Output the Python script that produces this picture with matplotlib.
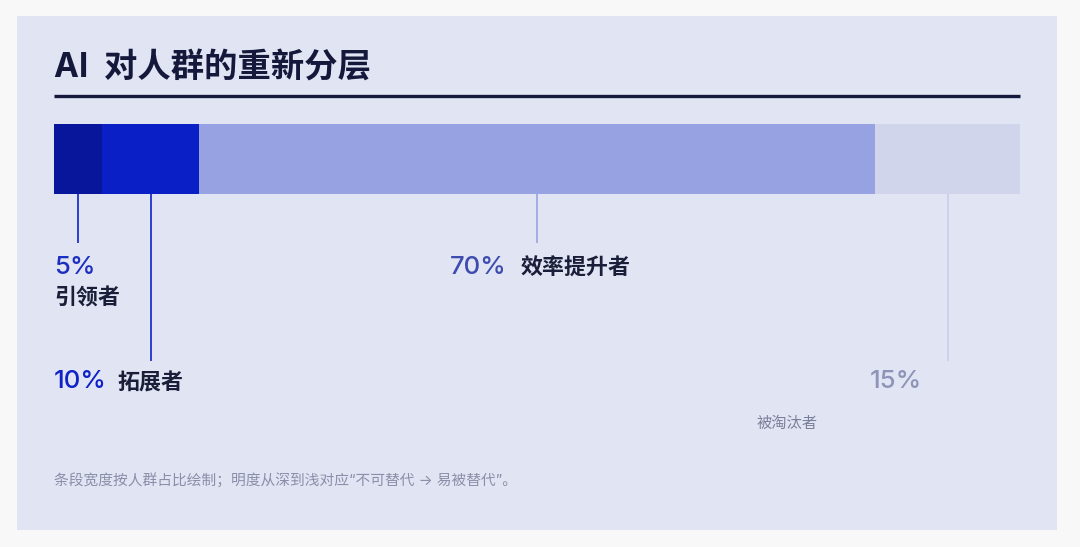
import matplotlib.pyplot as plt
from matplotlib.patches import Rectangle

plt.rcParams['font.family'] = ['Inter', 'Noto Sans CJK SC', 'DejaVu Sans']

# data
groups = ['引领者', '拓展者', '效率提升者', '被淘汰者']
shares = [5, 10, 70, 15]
pct_labels = ['5%', '10%', '70%', '15%']
seg_colors = ['#07169a', '#0a1fc6', '#96a2e2', '#d1d5ec']
line_colors = ['#2d3ecf', '#2d3ecf', '#a4addf', '#cdd1ea']
pct_colors = ['#1b2fc0', '#0e22c8', '#3d4cae', '#8e93b8']

W, H = 1080, 547
x0, x1 = 54, 1020
scale = (x1 - x0) / 100.0

fig = plt.figure(figsize=(W / 100, H / 100), dpi=100, facecolor='#f8f8f8')
ax = fig.add_axes([0, 0, 1, 1])
ax.set_xlim(-x0 / scale, (W - x0) / scale)
ax.set_ylim(H, 0)
ax.axis('off')

def px(x):
    return (x - x0) / scale

# card background
ax.add_patch(Rectangle((px(17), 16), (1057 - 17) / scale, 530 - 16,
                       facecolor='#e1e4f3', edgecolor='none', zorder=0))

# title and rule
ax.text(px(54), 69, 'AI  对人群的重新分层', fontsize=24, fontweight='bold',
        color='#14183a', va='center', ha='left')
ax.plot([0, 100], [96, 96], color='#14183a', lw=2.4, solid_capstyle='butt')

# stacked bar
lefts = [sum(shares[:i]) for i in range(len(shares))]
ax.barh(159, shares, left=lefts, height=70, color=seg_colors,
        edgecolor='none', zorder=2)

# leader lines at segment midpoints
ends = [242, 360, 242, 360]
for l, s, e, c in zip(lefts, shares, ends, line_colors):
    m = l + s / 2
    ax.plot([m, m], [194, e], color=c, lw=1.4, zorder=1)

# labels
pct_fs = 18.5
name_fs = 15.8
ax.text(px(54), 267, pct_labels[0], fontsize=pct_fs, fontweight='medium',
        color=pct_colors[0], va='center', ha='left')
ax.text(px(54), 298, groups[0], fontsize=name_fs, fontweight='bold',
        color='#1b1e38', va='center', ha='left')

ax.text(px(54), 382, pct_labels[1], fontsize=pct_fs, fontweight='medium',
        color=pct_colors[1], va='center', ha='left')
ax.text(px(117), 383, groups[1], fontsize=name_fs, fontweight='bold',
        color='#1b1e38', va='center', ha='left')

ax.text(px(450), 267, pct_labels[2], fontsize=pct_fs, fontweight='medium',
        color=pct_colors[2], va='center', ha='left')
ax.text(px(521), 268, groups[2], fontsize=name_fs, fontweight='bold',
        color='#1b1e38', va='center', ha='left')

ax.text(px(870), 382, pct_labels[3], fontsize=pct_fs, fontweight='medium',
        color=pct_colors[3], va='center', ha='left')
ax.text(px(757), 423, groups[3], fontsize=11,
        color='#7b7f99', va='center', ha='left')

# footnote
ax.text(px(54), 481, '条段宽度按人群占比绘制；明度从深到浅对应“不可替代 → 易被替代”。',
        fontsize=10.6, color='#8a8ea8', va='center', ha='left')

fig.savefig('out.png', dpi=100, facecolor=fig.get_facecolor())
